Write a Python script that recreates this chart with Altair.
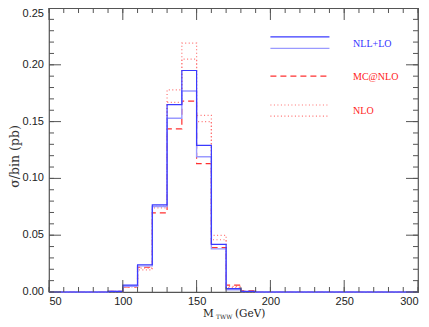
import altair as alt
import pandas as pd

W, H = 369, 284

# bin lower edges 50..290 (10 GeV bins), histogram values (pb)
bin_lo = list(range(50, 300, 10))
nll_lo_hi = [0, 0, 0, 0, 0.0005, 0.006, 0.024, 0.0767, 0.165, 0.195, 0.129, 0.042, 0.003, 0.0005,
             0, 0, 0, 0, 0, 0, 0, 0, 0, 0, 0]
nll_lo_lo = [0, 0, 0, 0, 0.0004, 0.005, 0.023, 0.0753, 0.153, 0.177, 0.119, 0.038, 0.002, 0.0003,
             0, 0, 0, 0, 0, 0, 0, 0, 0, 0, 0]
mc_nlo = [0, 0, 0, 0, 0.0005, 0.0044, 0.0218, 0.0697, 0.1436, 0.168, 0.113, 0.039, 0.006, 0.001,
          0, 0, 0, 0, 0, 0, 0, 0, 0, 0, 0]
nlo_hi = [0, 0, 0, 0, 0.0005, 0.005, 0.021, 0.0753, 0.178, 0.219, 0.1555, 0.0499, 0.005, 0.0005,
          0, 0, 0, 0, 0, 0, 0, 0, 0, 0, 0]
nlo_lo = [0, 0, 0, 0, 0.0004, 0.0045, 0.0195, 0.074, 0.167, 0.205, 0.150, 0.046, 0.004, 0.0004,
          0, 0, 0, 0, 0, 0, 0, 0, 0, 0, 0]

x_major = [50, 100, 150, 200, 250, 300]
x_minor = list(range(50, 301, 10))
y_major = [0, 0.05, 0.10, 0.15, 0.20, 0.25]
y_minor = [round(i * 0.01, 2) for i in range(26)]

# legend
leg_x1, leg_x2, leg_tx = 200, 240, 256
leg_lines_y = [0.2245, 0.2145, 0.190, 0.1646, 0.1548]
leg_labels = ["NLL+LO", "MC@NLO", "NLO"]
leg_labels_y = [0.2186, 0.1896, 0.1594]
leg_label_colors = ["#3333ff", "#ff2222", "#ff2222"]

C_BLUE = "#3a3aff"
C_LBLUE = "#9a9aff"
C_RED = "#ff3030"
C_LRED = "#ff7070"

xs = alt.Scale(domain=[50, 300], nice=False, zero=False)
ys = alt.Scale(domain=[0, 0.25], nice=False, zero=False)
xaxis = alt.Axis(values=x_major, tickSize=0, domain=False, grid=False, labelPadding=3,
                 labelFont="Liberation Sans", labelFontSize=11, labelColor="#222", title=None)
yaxis = alt.Axis(values=y_major, tickSize=0, domain=False, grid=False, labels=False,
                 title="σ/bin (pb)", titleFont="DejaVu Serif", titleFontSize=12.5,
                 titleFontWeight="normal", titleColor="#333", titleX=-35, titleY=148,
                 titleAngle=270, titleAlign="center", titleBaseline="middle")


def X(f):
    return alt.X(f, type="quantitative", scale=xs, axis=xaxis)


def Y(f):
    return alt.Y(f, type="quantitative", scale=ys, axis=yaxis)


def hist_df(vals):
    return pd.DataFrame({"x": bin_lo + [300], "y": vals + [vals[-1]]})


layers = []
series = [
    (nlo_hi, C_LRED, [1, 2.5], 1.2),
    (nlo_lo, C_LRED, [1, 2.5], 1.2),
    (mc_nlo, C_RED, [6, 4], 1.2),
    (nll_lo_lo, C_LBLUE, None, 1.4),
    (nll_lo_hi, C_BLUE, None, 1.2),
]
for vals, col, dash, sw in series:
    kw = dict(color=col, strokeWidth=sw, interpolate="step-after")
    if dash:
        kw["strokeDash"] = dash
    layers.append(alt.Chart(hist_df(vals)).mark_line(**kw).encode(x=X("x"), y=Y("y")))

# legend lines
leg_styles = [(C_BLUE, None), (C_LBLUE, None), (C_RED, [6, 4]), (C_LRED, [1, 2.5]), (C_LRED, [1, 2.5])]
for yv, (col, dash) in zip(leg_lines_y, leg_styles):
    kw = dict(color=col, strokeWidth=1.2)
    if dash:
        kw["strokeDash"] = dash
    d = pd.DataFrame({"x": [leg_x1], "x2": [leg_x2], "y": [yv]})
    layers.append(alt.Chart(d).mark_rule(**kw).encode(x=X("x"), x2="x2:Q", y=Y("y")))

leg_df = pd.DataFrame({"x": [leg_tx] * 3, "y": leg_labels_y, "t": leg_labels, "c": leg_label_colors})
layers.append(alt.Chart(leg_df).mark_text(font="Liberation Serif", fontSize=10, align="left",
                                          baseline="middle").encode(
    x=X("x"), y=Y("y"), text="t:N", color=alt.Color("c:N", scale=None)))

# y tick labels (top one nudged inside the canvas)
ylab = pd.DataFrame({"y": y_major[:-1], "t": [f"{v:.2f}" for v in y_major[:-1]]})
layers.append(alt.Chart(ylab).mark_text(font="Liberation Sans", fontSize=11, align="right",
                                        baseline="middle", color="#222").encode(
    y=Y("y"), x=alt.value(-5), text="t:N"))
ytop = pd.DataFrame({"y": y_major[-1:], "t": [f"{v:.2f}" for v in y_major[-1:]]})
layers.append(alt.Chart(ytop).mark_text(font="Liberation Sans", fontSize=11, align="right",
                                        baseline="middle", color="#222", dy=6).encode(
    y=Y("y"), x=alt.value(-5), text="t:N"))

# inside ticks on all four sides
TC = "#555"
for vals, ln in [(x_minor, 5), (x_major, 12)]:
    d = pd.DataFrame({"x": vals})
    layers.append(alt.Chart(d).mark_rule(color=TC, strokeWidth=1).encode(
        x=X("x"), y=alt.value(H), y2=alt.value(H - ln)))
    layers.append(alt.Chart(d).mark_rule(color=TC, strokeWidth=1).encode(
        x=X("x"), y=alt.value(0), y2=alt.value(ln)))
for vals, ln in [(y_minor, 5), (y_major, 12)]:
    d = pd.DataFrame({"y": vals})
    layers.append(alt.Chart(d).mark_rule(color=TC, strokeWidth=1).encode(
        y=Y("y"), x=alt.value(0), x2=alt.value(ln)))
    layers.append(alt.Chart(d).mark_rule(color=TC, strokeWidth=1).encode(
        y=Y("y"), x=alt.value(W), x2=alt.value(W - ln)))

# x-axis title with subscript
layers.append(alt.Chart(pd.DataFrame({"t": ["M"]})).mark_text(
    font="DejaVu Serif", fontSize=10.5, align="left", baseline="middle", color="#222").encode(
    text="t:N", x=alt.value(154), y=alt.value(305.5)))
layers.append(alt.Chart(pd.DataFrame({"t": ["TWW"]})).mark_text(
    font="DejaVu Serif", fontSize=6, align="left", baseline="middle", color="#222").encode(
    text="t:N", x=alt.value(167), y=alt.value(308.5)))
layers.append(alt.Chart(pd.DataFrame({"t": ["(GeV)"]})).mark_text(
    font="DejaVu Serif", fontSize=10.5, align="left", baseline="middle", color="#222").encode(
    text="t:N", x=alt.value(186), y=alt.value(305.5)))

chart = alt.layer(*layers).properties(
    width=W, height=H,
    autosize=alt.AutoSizeParams(type="none"),
    padding={"left": 41, "top": 0, "right": 3, "bottom": 27},
).configure_view(stroke="#555", strokeWidth=1.2)

chart.save("out.html", embed_options={"renderer": "svg", "actions": False})
